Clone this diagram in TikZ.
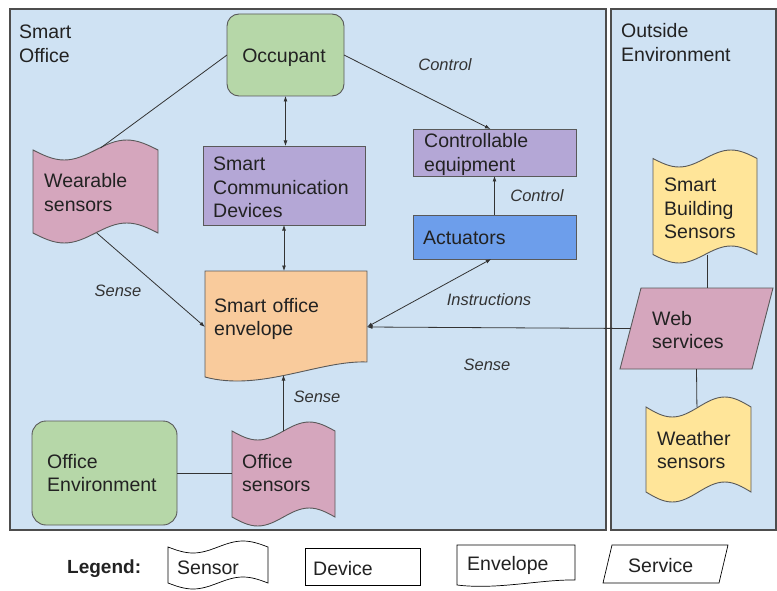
\documentclass[tikz,border=0pt]{standalone}
\usepackage{fontspec}
\setmainfont{Liberation Sans}
\usetikzlibrary{arrows.meta,calc}
\definecolor{panelblue}{HTML}{CFE2F3}
\definecolor{panelline}{HTML}{4D4D4D}
\definecolor{edgegray}{HTML}{595959}
\definecolor{occgreen}{HTML}{B6D7A8}
\definecolor{devpurple}{HTML}{B4A7D6}
\definecolor{actblue}{HTML}{6D9EEB}
\definecolor{senspink}{HTML}{D5A6BD}
\definecolor{envorange}{HTML}{F9CB9C}
\definecolor{sensyellow}{HTML}{FFE599}
\definecolor{txt}{HTML}{222222}
\definecolor{conn}{HTML}{333333}
% tape (punched tape) shape drawn over a named node
\newcommand\tapeshape[3]{%
  \path[#2] let \p1=(#1.north west), \p2=(#1.south east) in
  (\x1,{\y1-#3}) sin ({\x1+0.25*(\x2-\x1)},{\y1-2*#3}) cos ({\x1+0.5*(\x2-\x1)},{\y1-#3})
  sin ({\x1+0.75*(\x2-\x1)},\y1) cos (\x2,{\y1-#3})
  -- (\x2,{\y2+#3}) sin ({\x1+0.75*(\x2-\x1)},{\y2+2*#3}) cos ({\x1+0.5*(\x2-\x1)},{\y2+#3})
  sin ({\x1+0.25*(\x2-\x1)},\y2) cos (\x1,{\y2+#3}) -- cycle;}
% document shape (wavy bottom)
\newcommand\docshape[3]{%
  \path[#2] let \p1=(#1.north west), \p2=(#1.south east) in
  (\x1,\y1) -- (\x2,\y1) -- (\x2,\y2)
  .. controls ({\x2-0.29*(\x2-\x1)},{\y2+0.13*#3}) and ({\x1+0.34*(\x2-\x1)},{\y2-2*#3}) .. (\x1,{\y2-#3}) -- cycle;}
% parallelogram
\newcommand\paraShape[3]{%
  \path[#2] let \p1=(#1.north west), \p2=(#1.south east) in
  ({\x1+#3},\y1) -- (\x2,\y1) -- ({\x2-#3},\y2) -- (\x1,\y2) -- cycle;}
\begin{document}
\begin{tikzpicture}[x=1pt,y=-1pt,
  maintext/.style={font=\fontsize{19.5}{23.5}\selectfont, text=txt, anchor=base west, inner sep=0pt, text width=160pt, align=left},
  centertext/.style={font=\fontsize{19.5}{23.5}\selectfont, text=txt, anchor=base, inner sep=0pt},
  lbl/.style={font=\fontsize{16.5}{20}\selectfont\itshape, text=conn, anchor=base, inner sep=0pt},
  sbox/.style={draw=none, inner sep=0pt, outer sep=0pt},
  shp/.style={draw=edgegray, line width=0.9pt},
  rbox/.style={draw=edgegray, line width=0.9pt, inner sep=0pt, outer sep=0pt},
  panel/.style={draw=panelline, line width=1.1pt, fill=panelblue, inner sep=0pt, outer sep=0pt},
  leg/.style={draw=black, line width=0.7pt, fill=white},
  con/.style={draw=conn, line width=0.8pt},
  arr/.style={con, -{Latex[length=5.5pt,width=4pt]}},
  darr/.style={con, {Latex[length=5.5pt,width=4pt]}-{Latex[length=5.5pt,width=4pt]}}]
\useasboundingbox[fill=white] (0,0) rectangle (777,591);
% panels
\node[panel, minimum width=596pt, minimum height=521pt] (office) at (308,269.5) {};
\node[panel, minimum width=165pt, minimum height=521pt] (outside) at (693.5,269.5) {};
\node[maintext] (officelbl) at (19,39) {Smart\\Office};
\node[maintext] (outsidelbl) at (621,38) {Outside\\Environment};
% occupant
\node[rbox, fill=occgreen, rounded corners=12pt, minimum width=117pt, minimum height=82pt] (occ) at (285.5,55) {};
\node[centertext] (occ-t) at (284,63) {Occupant};
% smart communication devices
\node[rbox, fill=devpurple, minimum width=162pt, minimum height=79pt] (scd) at (284,185.5) {};
\node[maintext] (scd-t) at (213,171) {Smart\\Communication\\Devices};
% controllable equipment
\node[rbox, fill=devpurple, minimum width=163pt, minimum height=47pt] (ce) at (494.5,152.5) {};
\node[maintext] (ce-t) at (424,148) {Controllable\\equipment};
% actuators
\node[rbox, fill=actblue, minimum width=163pt, minimum height=44pt] (act) at (494.5,237) {};
\node[maintext] (act-t) at (423,244) {Actuators};
% wearable sensors
\node[sbox, minimum width=125pt, minimum height=103pt] (ws) at (95.5,191.5) {};
\tapeshape{ws}{shp, fill=senspink}{10pt}
\node[maintext] (ws-t) at (44,188) {Wearable\\sensors};
% smart office envelope
\node[sbox, minimum width=162pt, minimum height=91pt] (env) at (286,316.5) {};
\docshape{env}{shp, fill=envorange}{15pt}
\node[maintext] (env-t) at (214,312) {Smart office\\envelope};
% office environment
\node[rbox, fill=occgreen, rounded corners=14pt, minimum width=145pt, minimum height=104pt] (oe) at (104.5,473) {};
\node[maintext] (oe-t) at (47,468) {Office\\Environment};
% office sensors
\node[sbox, minimum width=103pt, minimum height=104pt] (os) at (283.5,474) {};
\tapeshape{os}{shp, fill=senspink}{9pt}
\node[maintext] (os-t) at (242,468) {Office\\sensors};
% smart building sensors
\node[sbox, minimum width=104pt, minimum height=113pt] (sbs) at (705,206.5) {};
\tapeshape{sbs}{shp, fill=sensyellow}{8.5pt}
\node[maintext] (sbs-t) at (664,192) {Smart\\Building\\Sensors};
% web services
\node[sbox, minimum width=153pt, minimum height=81pt] (web) at (696.5,328.5) {};
\paraShape{web}{shp, fill=senspink}{21pt}
\node[maintext] (web-t) at (652,325) {Web\\services};
% weather sensors
\node[sbox, minimum width=105pt, minimum height=105pt] (wt) at (698.5,449.5) {};
\tapeshape{wt}{shp, fill=sensyellow}{10pt}
\node[maintext] (wt-t) at (657,445) {Weather\\sensors};
% connectors
\draw[con] (occ.west) -- ($(ws.north west)!0.54!(ws.north east)+(0,8)$);
\draw[arr] (occ.east) -- ($(ce.north west)!0.475!(ce.north east)$);
\draw[darr] (occ.south) -- (occ.south |- scd.north);
\draw[darr] (scd.south) -- (scd.south |- env.north);
\draw[arr] (act.north) -- (ce.south);
\draw[darr] ($(env.east)+(0,10.5)$) -- ($(act.south west)!0.48!(act.south east)$);
\draw[arr] ($(web.west)+(10.5,0)$) -- ($(env.east)+(0,10.5)$);
\draw[arr] ($(ws.south west)!0.51!(ws.south east)+(0,-10)$) -- ($(env.west)+(0,10.5)$);
\coordinate (osTop) at ($(os.north west)!0.5!(os.north east)+(0,9)$);
\draw[arr] (osTop) -- ($(osTop |- env.south)+(0,13)$);
\draw[con] (oe.east) -- (oe.east -| os.west);
\coordinate (sbsBot) at ($(sbs.south west)!0.52!(sbs.south east)+(0,-8.5)$);
\draw[con] (sbsBot) -- (sbsBot |- web.north);
\draw[con] (web.south) -- ($(wt.north west)!0.485!(wt.north east)+(0,10)$);
% connector labels
\node[lbl] (l-ctrl1) at (445,71) {Control};
\node[lbl] (l-ctrl2) at (537,201) {Control};
\node[lbl] (l-instr) at (489,305) {Instructions};
\node[lbl] (l-sense1) at (487,370) {Sense};
\node[lbl] (l-sense2) at (118,296) {Sense};
\node[lbl] (l-sense3) at (317,402) {Sense};
% legend
\node[font=\fontsize{19}{22}\selectfont\bfseries, text=txt, anchor=base west, inner sep=0pt] (legend) at (67,573) {Legend:};
\node[sbox, minimum width=100pt, minimum height=48pt] (lg-sensor) at (218,565) {};
\tapeshape{lg-sensor}{leg}{6pt}
\node[maintext] (lg-sensor-t) at (177,574) {Sensor};
\node[rbox, leg, minimum width=115pt, minimum height=37pt] (lg-device) at (362.5,566.5) {};
\node[maintext] (lg-device-t) at (313,575) {Device};
\node[sbox, minimum width=118pt, minimum height=35pt] (lg-env) at (516,562.5) {};
\docshape{lg-env}{leg}{5pt}
\node[maintext] (lg-env-t) at (467,570) {Envelope};
\node[sbox, minimum width=125pt, minimum height=38pt] (lg-serv) at (665.5,564) {};
\paraShape{lg-serv}{leg}{9pt}
\node[maintext] (lg-serv-t) at (628,572) {Service};
\end{tikzpicture}
\end{document}
